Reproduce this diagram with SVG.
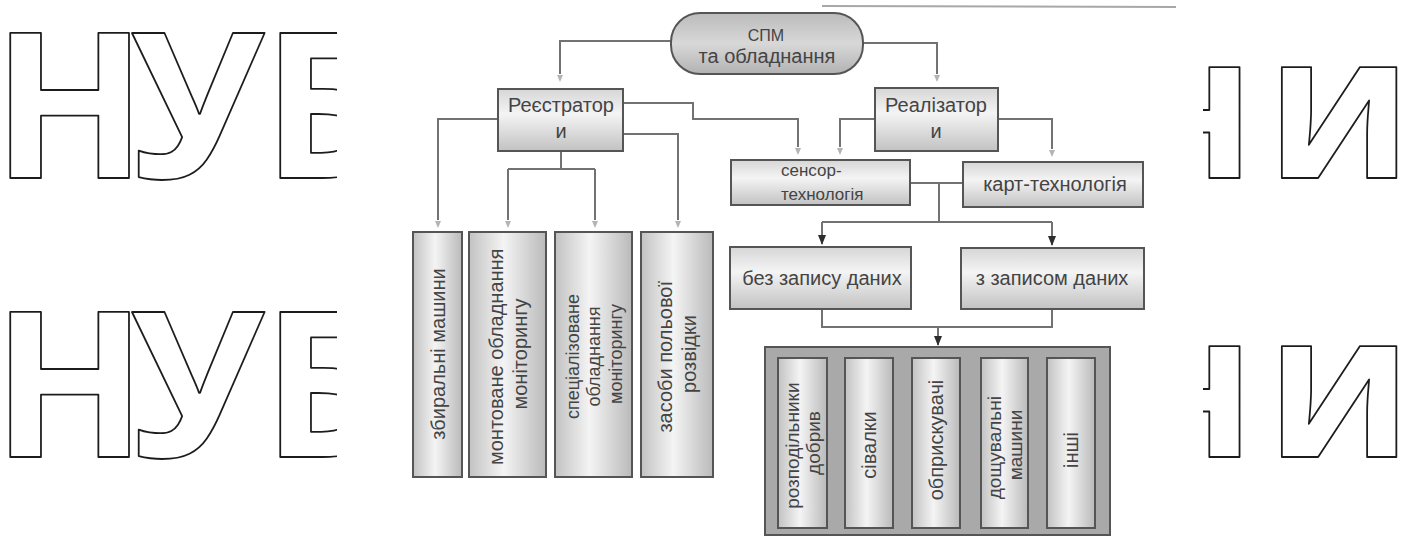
<svg xmlns="http://www.w3.org/2000/svg" width="1406" height="537" viewBox="0 0 1406 537">
  <defs>
    <style>
      .wm { font-family: "Open Sans", "DejaVu Sans", sans-serif; font-weight: 700; font-size: 203px; fill: #ffffff; stroke: #1c1c1c; stroke-width: 1.8; stroke-linejoin: round; }
      .box { stroke: #555555; stroke-width: 2; }
      .lbl { font-family: "Liberation Sans", Arial, sans-serif; font-size: 20px; fill: #444444; }
      .mid { text-anchor: middle; }
      .conn { fill: none; stroke: #727272; stroke-width: 2; }
      .faint { marker-end: url(#tipFaint); }
      .dark { marker-end: url(#tipDark); }
    </style>
    <linearGradient id="gH" x1="0" y1="0" x2="0" y2="1">
      <stop offset="0" stop-color="#d6d6d6"/>
      <stop offset="0.4" stop-color="#f4f4f4"/>
      <stop offset="1" stop-color="#c2c2c2"/>
    </linearGradient>
    <linearGradient id="gV" x1="0" y1="0" x2="1" y2="0">
      <stop offset="0" stop-color="#c2c2c2"/>
      <stop offset="0.45" stop-color="#f4f4f4"/>
      <stop offset="1" stop-color="#bababa"/>
    </linearGradient>
    <linearGradient id="gPill" x1="0" y1="0" x2="0" y2="1">
      <stop offset="0" stop-color="#bbbbbb"/>
      <stop offset="0.5" stop-color="#d8d8d8"/>
      <stop offset="1" stop-color="#b2b2b2"/>
    </linearGradient>
    <marker id="tipFaint" viewBox="0 0 8 8" refX="-1" refY="4" markerWidth="8" markerHeight="8" markerUnits="userSpaceOnUse" orient="auto">
      <path d="M0,1 L7,4 L0,7 Z" fill="#b4b4b4"/>
    </marker>
    <marker id="tipDark" viewBox="0 0 10 10" refX="9" refY="5" markerWidth="10" markerHeight="10" markerUnits="userSpaceOnUse" orient="auto">
      <path d="M0,1 L10,5 L0,9 Z" fill="#2e2e2e"/>
    </marker>
    <clipPath id="wmClip">
      <rect x="0" y="0" width="337" height="537"/>
      <rect x="1203" y="0" width="203" height="537"/>
    </clipPath>
  </defs>

  <rect x="0" y="0" width="1406" height="537" fill="#ffffff"/>

  <!-- outlined watermark lettering at the page edges -->
  <g id="watermark" clip-path="url(#wmClip)">
    <text class="wm" x="-8 130 262" y="178">НУБ</text>
    <text class="wm" x="-8 130 262" y="457">НУБ</text>
    <text class="wm" x="1121 1266" y="178">ни</text>
    <text class="wm" x="1121 1266" y="457">ни</text>
  </g>

  <!-- thin rule at the top -->
  <line x1="822" y1="6" x2="1176" y2="7" stroke="#a8a8a8" stroke-width="2"/>

  <!-- connectors -->
  <g id="connectors">
    <path class="conn faint" d="M672,41 H560 V74"/>
    <path class="conn faint" d="M862,43 H937 V74"/>
    <path class="conn faint" d="M498,119 H438 V220"/>
    <path class="conn" d="M561,151 V169 M508,169 H595"/>
    <path class="conn faint" d="M508,169 V220"/>
    <path class="conn faint" d="M595,169 V220"/>
    <path class="conn faint" d="M623,134 H678 V220"/>
    <path class="conn faint" d="M623,103 H693 V119 H798 V147"/>
    <path class="conn faint" d="M875,119 H840 V147"/>
    <path class="conn faint" d="M998,119 H1052 V149"/>
    <path class="conn" d="M910,183 H963 M939,183 V222 M822,222 H1052"/>
    <path class="conn dark" d="M822,222 V244"/>
    <path class="conn dark" d="M1052,222 V245"/>
    <path class="conn" d="M822,309 V327 H1052 V309"/>
    <path class="conn dark" d="M938,327 V345"/>
  </g>

  <!-- top node -->
  <g id="spm">
    <rect class="box" x="671" y="13" width="192" height="61" rx="29" fill="url(#gPill)"/>
    <text class="lbl mid" x="766" y="41" style="font-size:16px">СПМ</text>
    <text class="lbl mid" x="767" y="63">та обладнання</text>
  </g>

  <g id="reiestratory">
    <rect class="box" x="498" y="89" width="125" height="62" fill="url(#gH)"/>
    <text class="lbl mid" x="561" y="112">Реєстратор</text>
    <text class="lbl mid" x="561" y="138">и</text>
  </g>

  <g id="realizatory">
    <rect class="box" x="875" y="88" width="123" height="63" fill="url(#gH)"/>
    <text class="lbl mid" x="936" y="112">Реалізатор</text>
    <text class="lbl mid" x="936" y="138">и</text>
  </g>

  <g id="sensor">
    <rect class="box" x="731" y="160" width="179" height="45" fill="url(#gH)"/>
    <text class="lbl" x="781" y="176" style="font-size:17px">сенсор-</text>
    <text class="lbl" x="781" y="200" style="font-size:17px">технологія</text>
  </g>

  <g id="kart">
    <rect class="box" x="963" y="162" width="180" height="45" fill="url(#gH)"/>
    <text class="lbl mid" x="1055" y="191">карт-технологія</text>
  </g>

  <g id="bez-zapysu">
    <rect class="box" x="730" y="247" width="181" height="62" fill="url(#gH)"/>
    <text class="lbl mid" x="822" y="285">без запису даних</text>
  </g>

  <g id="z-zapysom">
    <rect class="box" x="961" y="248" width="183" height="61" fill="url(#gH)"/>
    <text class="lbl mid" x="1052" y="285">з записом даних</text>
  </g>

  <!-- registering equipment, vertical labels -->
  <g id="zbyralni">
    <rect class="box" x="413" y="232" width="49" height="245" fill="url(#gV)"/>
    <text class="lbl mid" transform="translate(437.5,354) rotate(-90)" y="7">збиральні машини</text>
  </g>

  <g id="montovane">
    <rect class="box" x="469" y="232" width="77" height="245" fill="url(#gV)"/>
    <text class="lbl mid" transform="translate(507.5,354) rotate(-90)">
      <tspan x="0" y="-5">монтоване обладнання</tspan>
      <tspan x="0" y="19">моніторингу</tspan>
    </text>
  </g>

  <g id="spetsializovane">
    <rect class="box" x="555" y="232" width="77" height="245" fill="url(#gV)"/>
    <text class="lbl mid" transform="translate(593.5,354) rotate(-90)" style="font-size:18px">
      <tspan x="0" y="-15">спеціалізоване</tspan>
      <tspan x="0" y="6">обладнання</tspan>
      <tspan x="0" y="28">моніторингу</tspan>
    </text>
  </g>

  <g id="zasoby">
    <rect class="box" x="641" y="232" width="72" height="245" fill="url(#gV)"/>
    <text class="lbl mid" transform="translate(677,354) rotate(-90)">
      <tspan x="0" y="-5">засоби польової</tspan>
      <tspan x="0" y="19">розвідки</tspan>
    </text>
  </g>

  <!-- machines group -->
  <g id="mashyny">
    <rect class="box" x="765" y="347" width="345" height="188" fill="#a9a9a9"/>
  </g>

  <g id="rozpodilnyky">
    <rect class="box" x="778" y="358" width="49" height="170" fill="url(#gV)"/>
    <text class="lbl mid" transform="translate(802.5,443) rotate(-90)" style="font-size:19px">
      <tspan x="0" y="-4">розподільники</tspan>
      <tspan x="0" y="17">добрив</tspan>
    </text>
  </g>

  <g id="sivalky">
    <rect class="box" x="845" y="358" width="48" height="170" fill="url(#gV)"/>
    <text class="lbl mid" transform="translate(869,445) rotate(-90)" y="7">сівалки</text>
  </g>

  <g id="obpryskuvachi">
    <rect class="box" x="912" y="358" width="48" height="170" fill="url(#gV)"/>
    <text class="lbl mid" transform="translate(936,440) rotate(-90)" y="7">обприскувачі</text>
  </g>

  <g id="doshchuvalni">
    <rect class="box" x="981" y="358" width="47" height="170" fill="url(#gV)"/>
    <text class="lbl mid" transform="translate(1004.5,445) rotate(-90)" style="font-size:19px">
      <tspan x="0" y="-4">дощувальні</tspan>
      <tspan x="0" y="17">машини</tspan>
    </text>
  </g>

  <g id="inshi">
    <rect class="box" x="1047" y="358" width="48" height="170" fill="url(#gV)"/>
    <text class="lbl mid" transform="translate(1071,450) rotate(-90)" y="7">інші</text>
  </g>
</svg>
